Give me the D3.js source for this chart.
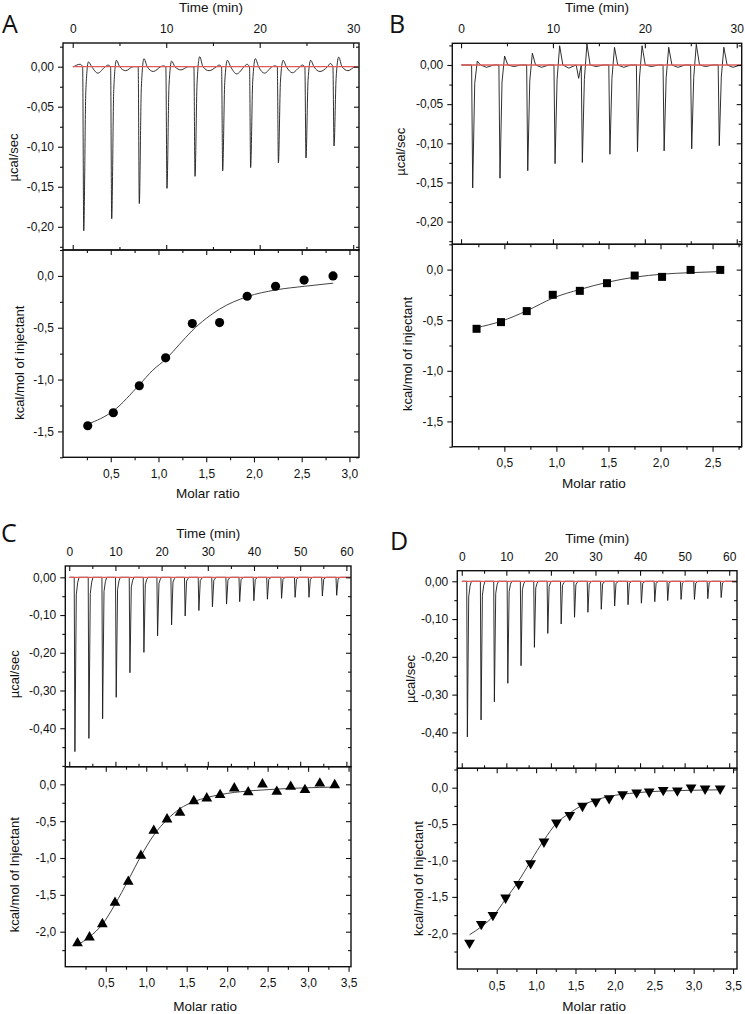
<!DOCTYPE html>
<html><head><meta charset="utf-8">
<script src="https://cdn.jsdelivr.net/npm/d3@7"></script>
<style>
body{margin:0;background:#fff}
svg text{font-family:"Liberation Sans",Arial,sans-serif;fill:#111}
</style>
</head><body>
<svg id="c" width="745" height="1014"></svg>
<script>
// ---------------- DATA ----------------
// Panel A
const timeTicksA = [0, 10, 20, 30];
const injTimeA = [1.18, 4.17, 7.12, 10.08, 13.08, 16.04, 19.03, 22.0, 24.95, 27.95];
const peakA    = [-0.205, -0.19, -0.171, -0.152, -0.137, -0.130, -0.126, -0.120, -0.114, -0.099];
const reboundA = [0.006, 0.008, 0.010, 0.007, 0.0125, 0.008, 0.010, 0.008, 0.008, 0.012];
const dipA     = [-0.008, -0.005, -0.006, -0.004, -0.005, -0.009, -0.008, -0.0075, -0.006, -0.005];
const preDipA  = [0.003, 0.002, 0.0, 0.001, 0.0, 0.002, 0.003, 0.001, 0.002, 0.004];
const ratioA   = [0.259, 0.527, 0.799, 1.075, 1.354, 1.640, 1.929, 2.226, 2.525, 2.828];
const heatA    = [-1.446, -1.32, -1.06, -0.79, -0.46, -0.45, -0.196, -0.10, -0.04, 0.0];
const fitXA    = [0.26, 0.53, 0.80, 0.94, 1.08, 1.22, 1.35, 1.50, 1.64, 1.93, 2.23, 2.53, 2.83];
const fitYA    = [-1.43, -1.30, -1.05, -0.91, -0.80, -0.66, -0.53, -0.41, -0.32, -0.20, -0.135, -0.10, -0.07];
const ratioTicksA = [0.5, 1.0, 1.5, 2.0, 2.5, 3.0];

// Panel B
const timeTicksB = [0, 10, 20, 30];
const injTimeB = [1.27, 4.24, 7.26, 10.23, 13.2, 16.2, 19.2, 22.1, 25.1, 28.1];
const peakB    = [-0.157, -0.1446, -0.135, -0.126, -0.1245, -0.114, -0.1106, -0.1097, -0.107, -0.103];
const reboundB = [0.005, 0.0115, 0.015, 0.0246, 0.0268, 0.0226, 0.0246, 0.0226, 0.0264, 0.0226];
const dipB     = [-0.003, -0.002, -0.003, -0.004, -0.002, -0.003, -0.002, -0.003, -0.002, -0.003];
const preDipB  = [0.0, 0.0, 0.0, 0.0, -0.017, 0.0, 0.0, 0.0, 0.0, 0.0];
const ratioB   = [0.233, 0.468, 0.715, 0.965, 1.225, 1.486, 1.752, 2.015, 2.289, 2.574];
const heatB    = [-0.585, -0.519, -0.41, -0.249, -0.21, -0.134, -0.059, -0.072, -0.003, -0.003];
const fitXB    = [0.23, 0.47, 0.72, 0.97, 1.23, 1.49, 1.75, 2.02, 2.29, 2.57];
const fitYB    = [-0.575, -0.51, -0.405, -0.28, -0.195, -0.125, -0.075, -0.045, -0.03, -0.02];
const ratioTicksB = [0.5, 1.0, 1.5, 2.0, 2.5];

// Panel C
const timeTicksC = [0, 10, 20, 30, 40, 50, 60];
const injTimeC = [1.23, 4.26, 7.23, 10.17, 13.14, 16.17, 19.13, 22.16, 25.1, 28.07, 31.0, 34.06, 36.9, 39.97, 42.9, 45.97, 48.9, 51.9, 54.8, 57.9];
const peakC    = [-0.462, -0.427, -0.375, -0.318, -0.253, -0.199, -0.155, -0.126, -0.1025, -0.088, -0.078, -0.071, -0.0645, -0.062, -0.058, -0.0556, -0.053, -0.053, -0.0495, -0.0477];
const ratioC   = [0.151, 0.299, 0.458, 0.614, 0.778, 0.934, 1.093, 1.257, 1.417, 1.588, 1.748, 1.913, 2.088, 2.26, 2.436, 2.613, 2.785, 2.961, 3.145, 3.329];
const heatC    = [-2.157, -2.076, -1.896, -1.606, -1.32, -0.969, -0.63, -0.475, -0.385, -0.227, -0.19, -0.145, -0.054, -0.108, 0.0, -0.10, -0.032, -0.077, 0.013, -0.01];
const fitYC    = [-2.18, -2.07, -1.90, -1.63, -1.30, -0.975, -0.69, -0.48, -0.33, -0.235, -0.18, -0.14, -0.11, -0.09, -0.077, -0.065, -0.055, -0.048, -0.042, -0.038];
const ratioTicksC = [0.5, 1.0, 1.5, 2.0, 2.5, 3.0, 3.5];

// Panel D
const timeTicksD = [0, 10, 20, 30, 40, 50, 60];
const injTimeD = [1.26, 4.33, 7.32, 10.33, 13.3, 16.3, 19.3, 22.3, 25.3, 28.3, 31.3, 34.3, 37.3, 40.3, 43.3, 46.2, 49.2, 52.2, 55.2, 58.2];
const peakD    = [-0.412, -0.367, -0.319, -0.270, -0.2235, -0.175, -0.138, -0.113, -0.0954, -0.082, -0.074, -0.0654, -0.062, -0.058, -0.054, -0.051, -0.048, -0.048, -0.046, -0.043];
const ratioD   = [0.155, 0.304, 0.452, 0.613, 0.779, 0.931, 1.1, 1.258, 1.427, 1.589, 1.758, 1.927, 2.098, 2.276, 2.436, 2.614, 2.793, 2.967, 3.145, 3.336];
const heatD    = [-2.13, -1.872, -1.749, -1.511, -1.323, -1.039, -0.742, -0.48, -0.375, -0.251, -0.192, -0.146, -0.091, -0.068, -0.055, -0.032, -0.041, 0.0, -0.014, -0.014];
const fitYD    = [-2.02, -1.91, -1.77, -1.53, -1.28, -1.01, -0.72, -0.49, -0.35, -0.24, -0.17, -0.12, -0.09, -0.07, -0.055, -0.046, -0.04, -0.036, -0.032, -0.03];
const ratioTicksD = [0.5, 1.0, 1.5, 2.0, 2.5, 3.0, 3.5];

const powerTicksSmall = [0.0, -0.05, -0.10, -0.15, -0.20];
const powerTicksLarge = [0.0, -0.10, -0.20, -0.30, -0.40];
const heatTicksAB = [0.0, -0.5, -1.0, -1.5];
const heatTicksCD = [0.0, -0.5, -1.0, -1.5, -2.0];

// ---------------- DRAW ----------------
const loc = d3.formatLocale({decimal: ",", thousands: ".", grouping: [3], currency: ["", ""], minus: "-"});
const f2 = loc.format(".2f"), f1 = loc.format(".1f"), f0 = loc.format("d");
const svg = d3.select("#c");
const FONT = '"Liberation Sans", Arial, sans-serif';

function axis(g, orient, scale, tr, majors, minors, fmt, inward, pad) {
  const mk = {top: d3.axisTop, bottom: d3.axisBottom, left: d3.axisLeft, right: d3.axisRight}[orient];
  const a = mk(scale).tickValues(majors).tickSizeInner(inward ? -5 : 5).tickSizeOuter(0)
    .tickPadding(pad || 3).tickFormat(fmt || (() => ""));
  const ga = g.append("g").attr("transform", tr).call(a);
  ga.select(".domain").remove();
  ga.attr("font-family", FONT).attr("font-size", 12);
  ga.selectAll("line").attr("stroke", "#111").attr("stroke-width", 1.1);
  ga.selectAll("text").attr("fill", "#111");
  const m = mk(scale).tickValues(minors).tickSizeInner(inward ? -3 : 3).tickSizeOuter(0).tickFormat(() => "");
  const gm = g.append("g").attr("transform", tr).call(m);
  gm.select(".domain").remove();
  gm.selectAll("line").attr("stroke", "#111").attr("stroke-width", 1.1);
}
function range(a, b, s) { const r = []; for (let v = a; v <= b + 1e-9; v += s) r.push(+v.toFixed(4)); return r; }

function panel(P) {
  const g = svg.append("g");
  const x1 = d3.scaleLinear().domain(P.tDom).range([P.left, P.right]);
  const y1 = d3.scaleLinear().domain(P.yTopDom).range([P.mid, P.top]);
  const x2 = d3.scaleLinear().domain(P.rDom).range([P.left, P.right]);
  const y2 = d3.scaleLinear().domain(P.yBotDom).range([P.bot, P.mid]);
  const cid = "clip" + P.name;
  svg.append("clipPath").attr("id", cid).append("rect")
    .attr("x", P.left).attr("y", P.top).attr("width", P.right - P.left).attr("height", P.mid - P.top);

  // thermogram trace
  const T = P.trace, S = P.shape;
  const pts = [[T.span[0], 0]];
  T.times.forEach((t, i) => {
    const pre = T.pre ? T.pre[i] : 0;
    const reb = T.reb ? T.reb[i] : 0;
    const dip = T.dip ? T.dip[i] : 0;
    pts.push([t - S.a, pre]);
    pts.push([t - S.b, 0]);
    pts.push([t, T.peaks[i]]);
    pts.push([t + S.c, T.peaks[i] * S.cf]);
    pts.push([t + S.d, reb]);
    pts.push([t + S.e, T.peaks[i] * S.ef]);
    pts.push([t + S.f, dip]);
    pts.push([t + S.h, 0]);
  });
  pts.push([T.span[1], 0]);
  pts.sort((p, q) => p[0] - q[0]);
  g.append("path").attr("clip-path", `url(#${cid})`)
    .attr("d", d3.line().curve(P.smooth ? d3.curveMonotoneX : d3.curveLinear).x(d => x1(d[0])).y(d => y1(d[1]))(pts))
    .attr("fill", "none").attr("stroke", "#1a1a1a").attr("stroke-width", 0.9).attr("stroke-linejoin", "round");
  g.append("path").attr("clip-path", `url(#${cid})`)
    .attr("d", d3.line().x(d => x1(d[0])).y(d => y1(d[1]))([[T.base[0], 0], [T.base[1], 0]]))
    .attr("stroke", "#e05a5a").attr("stroke-width", 1.3);

  // fit line
  const fit = P.fitX.map((x, i) => [x, P.fitY[i]]);
  g.append("path").attr("d", d3.line().curve(d3.curveMonotoneX).x(d => x2(d[0])).y(d => y2(d[1]))(fit))
    .attr("fill", "none").attr("stroke", "#444").attr("stroke-width", 1);
  // markers
  const sym = d3.symbol().type(P.symbol).size(P.symSize);
  g.selectAll(null).data(P.ratio).join("path")
    .attr("d", sym)
    .attr("transform", (d, i) => `translate(${x2(d)},${y2(P.heat[i])})${P.flip ? " rotate(180)" : ""}`)
    .attr("fill", "#000");

  // frames
  g.append("rect").attr("x", P.left).attr("y", P.top).attr("width", P.right - P.left).attr("height", P.mid - P.top)
    .attr("fill", "none").attr("stroke", "#111").attr("stroke-width", 1.4);
  g.append("rect").attr("x", P.left).attr("y", P.mid).attr("width", P.right - P.left).attr("height", P.bot - P.mid)
    .attr("fill", "none").attr("stroke", "#111").attr("stroke-width", 1.4);

  // axes top panel
  axis(g, "top", x1, `translate(0,${P.top})`, P.tTicks, P.tMinor, f0, true, 10);
  axis(g, "bottom", x1, `translate(0,${P.mid})`, P.tTicks, P.tMinor, null, true);
  axis(g, "left", y1, `translate(${P.left},0)`, P.pTicks, P.pMinor, f2, false, 4);
  axis(g, "right", y1, `translate(${P.right},0)`, P.pTicks, P.pMinor, null, true);
  // axes bottom panel
  axis(g, "bottom", x2, `translate(0,${P.bot})`, P.rTicks, P.rMinor, f1, false, 7);
  axis(g, "top", x2, `translate(0,${P.mid})`, P.rTicks, P.rMinor, null, true);
  axis(g, "left", y2, `translate(${P.left},0)`, P.hTicks, P.hMinor, f1, false, 4);
  axis(g, "right", y2, `translate(${P.right},0)`, P.hTicks, P.hMinor, null, true);

  const cx = (P.left + P.right) / 2;
  g.append("text").attr("x", cx).attr("y", P.top + P.timeTitleDy).attr("text-anchor", "middle")
    .attr("font-size", 13.5).text("Time (min)");
  g.append("text").attr("x", cx - 3).attr("y", P.bot + P.ratioTitleDy).attr("text-anchor", "middle")
    .attr("font-size", 13.5).text("Molar ratio");
  g.append("text").attr("transform", `translate(${P.left + P.yTitle1[0]},${(P.top + P.mid) / 2 + P.yTitle1[1]}) rotate(-90)`)
    .attr("text-anchor", "middle").attr("dy", "0.35em").attr("font-size", 13).text("µcal/sec");
  g.append("text").attr("transform", `translate(${P.left + P.yTitle2[0]},${(P.mid + P.bot) / 2 + P.yTitle2[1]}) rotate(-90)`)
    .attr("text-anchor", "middle").attr("dy", "0.35em").attr("font-size", 13).text(P.heatLabel);
  g.append("text").attr("x", P.letter[0]).attr("y", P.letter[1]).attr("font-size", 25)
    .style("font-family", '"Open Sans", sans-serif').text(P.name);
}

const shapeSlow = {a: 0.4, b: 0.12, c: 0.22, cf: 0.15, d: 0.5, e: 0.85, ef: 0.0, f: 1.5, h: 2.3};
const shapeFast = {a: 0.5, b: 0.15, c: 0.3, cf: 0.1, d: 0.9, e: 0.6, ef: 0.03, f: 1.6, h: 2.0};

panel({
  name: "A", left: 63, right: 359, top: 43, mid: 250, bot: 457.3, smooth: true,
  tDom: [-1.04, 30.62], yTopDom: [-0.229, 0.0296], rDom: [0, 3.1], yBotDom: [-1.75, 0.25],
  trace: {times: injTimeA, peaks: peakA, reb: reboundA, dip: dipA, pre: preDipA, span: [0.1, 30.3], base: [0, 30.5]},
  shape: shapeSlow,
  fitX: fitXA, fitY: fitYA, ratio: ratioA, heat: heatA, symbol: d3.symbolCircle, symSize: 66,
  tTicks: timeTicksA, tMinor: [5, 15, 25], pTicks: powerTicksSmall, pMinor: range(-0.225, 0.025, 0.05),
  rTicks: ratioTicksA, rMinor: range(0.25, 2.75, 0.5), hTicks: heatTicksAB, hMinor: range(-1.75, 0.25, 0.5),
  timeTitleDy: -31, ratioTitleDy: 41, yTitle1: [-50, 11], yTitle2: [-44, 9],
  heatLabel: "kcal/mol of injectant", letter: [2, 33]
});
panel({
  name: "B", left: 452.3, right: 741.7, top: 43.3, mid: 244.3, bot: 446.7,
  tDom: [-0.95, 30.54], yTopDom: [-0.229, 0.0277], rDom: [0, 2.78], yBotDom: [-1.75, 0.25],
  trace: {times: injTimeB, peaks: peakB, reb: reboundB, dip: dipB, pre: preDipB, span: [0.1, 30.5], base: [0, 30.5]},
  shape: shapeSlow,
  fitX: fitXB, fitY: fitYB, ratio: ratioB, heat: heatB, symbol: d3.symbolSquare, symSize: 64,
  tTicks: timeTicksB, tMinor: [5, 15, 25], pTicks: powerTicksSmall, pMinor: range(-0.225, 0.025, 0.05),
  rTicks: ratioTicksB, rMinor: range(0.25, 2.75, 0.5), hTicks: heatTicksAB, hMinor: range(-1.75, 0.25, 0.5),
  timeTitleDy: -31, ratioTitleDy: 41, yTitle1: [-52, 8], yTitle2: [-45, 8.5],
  heatLabel: "kcal/mol of injectant", letter: [389, 33]
});
panel({
  name: "C", left: 65.3, right: 351, top: 566, mid: 766.7, bot: 966.7,
  tDom: [-0.85, 61], yTopDom: [-0.502, 0.03], rDom: [0, 3.53], yBotDom: [-2.475, 0.239],
  trace: {times: injTimeC, peaks: peakC, span: [0.1, 61], base: [0, 61]},
  shape: shapeFast,
  fitX: ratioC, fitY: fitYC, ratio: ratioC, heat: heatC, symbol: d3.symbolTriangle, symSize: 50,
  tTicks: timeTicksC, tMinor: range(5, 55, 10), pTicks: powerTicksLarge, pMinor: range(-0.45, 0.0, 0.1).filter(v => v < 0),
  rTicks: ratioTicksC, rMinor: range(0.25, 3.25, 0.5), hTicks: heatTicksCD, hMinor: range(-2.25, 0.25, 0.5),
  timeTitleDy: -28, ratioTitleDy: 44, yTitle1: [-51, 8], yTitle2: [-51, 8],
  heatLabel: "kcal/mol of Injectant", letter: [1, 542]
});
panel({
  name: "D", left: 457.3, right: 737, top: 570.7, mid: 768.3, bot: 969,
  tDom: [-1, 61.75], yTopDom: [-0.495, 0.028], rDom: [0, 3.55], yBotDom: [-2.49, 0.266],
  trace: {times: injTimeD, peaks: peakD, span: [0.1, 61.7], base: [0, 61.7]},
  shape: shapeFast,
  fitX: ratioD, fitY: fitYD, ratio: ratioD, heat: heatD, symbol: d3.symbolTriangle, symSize: 50, flip: true,
  tTicks: timeTicksD, tMinor: range(5, 55, 10), pTicks: powerTicksLarge, pMinor: range(-0.45, 0.0, 0.1).filter(v => v < 0),
  rTicks: ratioTicksD, rMinor: range(0.25, 3.25, 0.5), hTicks: heatTicksCD, hMinor: range(-2.25, 0.25, 0.5),
  timeTitleDy: -28, ratioTitleDy: 42, yTitle1: [-47, 9.5], yTitle2: [-39, 10],
  heatLabel: "kcal/mol of Injectant", letter: [390, 550]
});
</script>
</body></html>
